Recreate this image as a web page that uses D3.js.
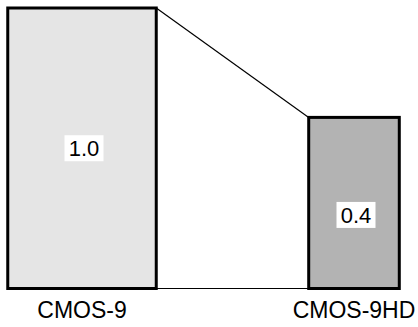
<!DOCTYPE html>
<html><head><meta charset="utf-8">
<script src="https://cdn.jsdelivr.net/npm/d3@7"></script>
<style>html,body{margin:0;padding:0;background:#fff;}svg{display:block;}</style>
</head><body>
<svg id="c" width="418" height="327"></svg>
<script>
const categories = ["CMOS-9", "CMOS-9HD"];
const valueLabels = ["1.0", "0.4"];
const relSize = [1.0, 0.61];       // relative bar size
const fills = ["#e5e5e5", "#b3b3b3"];

const svg = d3.select("#c");
const font = "'Liberation Sans', Arial, sans-serif";

const x = d3.scalePoint().domain(categories).range([82, 354]);
const w = d3.scaleLinear().domain([0, 1]).range([0, 148.5]);
const y = d3.scaleLinear().domain([0, 1]).range([288.5, 8]);

const bars = categories.map((c, i) => ({
  c, i, x0: x(c) - w(relSize[i]) / 2, x1: x(c) + w(relSize[i]) / 2,
  top: y(relSize[i]), bottom: y(0)
}));

svg.append("line")
  .attr("x1", bars[0].x1).attr("x2", bars[1].x0)
  .attr("y1", y(0)).attr("y2", y(0))
  .attr("stroke", "#000").attr("stroke-width", 1.2);
svg.append("line")
  .attr("x1", bars[0].x1).attr("y1", bars[0].top)
  .attr("x2", bars[1].x0).attr("y2", bars[1].top)
  .attr("stroke", "#000").attr("stroke-width", 1.2);

svg.selectAll("rect.bar").data(bars).enter().append("rect")
  .attr("class", "bar")
  .attr("x", d => d.x0).attr("y", d => d.top)
  .attr("width", d => d.x1 - d.x0).attr("height", d => d.bottom - d.top)
  .attr("fill", d => fills[d.i]).attr("stroke", "#000").attr("stroke-width", 3);

const fracs = [0.5, 0.57];
bars.forEach(d => {
  const cx = x(d.c) + 2;
  const cy = d.top + (d.bottom - d.top) * fracs[d.i];
  svg.append("rect").attr("x", cx - 19.5).attr("y", cy - 13).attr("width", 39).attr("height", 26).attr("fill", "#fff");
  svg.append("text").attr("x", cx).attr("y", cy).attr("dy", "0.36em")
    .attr("text-anchor", "middle").attr("font-family", font).attr("font-size", 22)
    .attr("fill", "#000").text(valueLabels[d.i]);
});

svg.selectAll("text.cat").data(categories).enter().append("text")
  .attr("class", "cat")
  .attr("x", d => x(d)).attr("y", 318)
  .attr("text-anchor", "middle").attr("font-family", font).attr("font-size", 23)
  .attr("fill", "#000").text(d => d);
</script>
</body></html>
